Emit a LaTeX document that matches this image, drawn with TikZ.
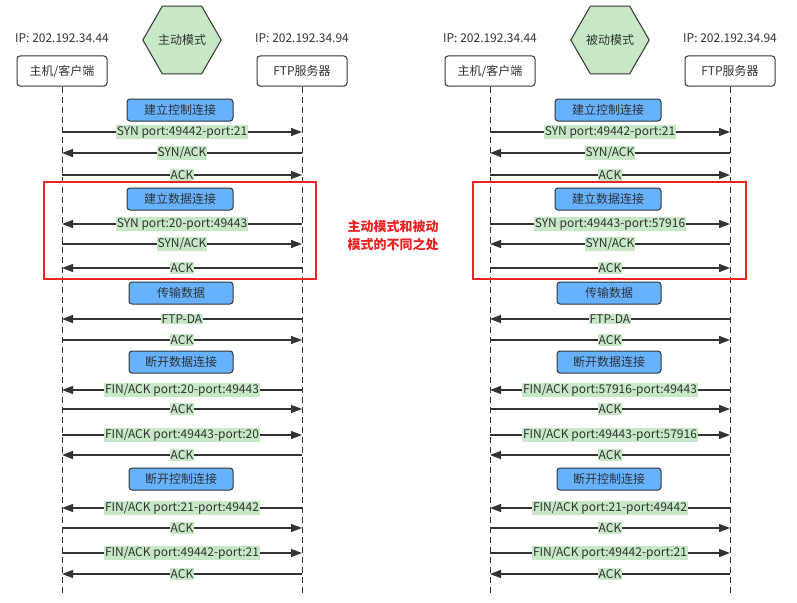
\documentclass[tikz,border=0pt]{standalone}
\usepackage{fontspec}
\setmainfont{Noto Sans CJK SC}
\usetikzlibrary{arrows.meta,shapes.geometric}
\definecolor{lg}{HTML}{C6E8C6}
\definecolor{bb}{HTML}{66B2FF}
\definecolor{dk}{HTML}{333333}
\definecolor{rd}{HTML}{EE2222}
\tikzset{
  x=1pt,y=-1pt,
  every node/.style={font=\fontsize{12}{14}\selectfont, text=dk},
  head/.style={draw=dk, line width=1pt, rounded corners=3pt, minimum width=90pt, minimum height=30pt, fill=white},
  hexa/.style={regular polygon, regular polygon sides=6, draw=dk, line width=1pt, fill=lg, minimum size=76pt, inner sep=0pt},
  phase/.style={draw=dk, line width=1pt, rounded corners=3pt, fill=bb, minimum width=106pt, minimum height=22pt},
  life/.style={draw=dk, line width=1pt, dash pattern=on 6pt off 4pt},
  msg/.style={draw=dk, line width=1.2pt, -{Triangle[length=11pt,width=8pt]}},
  lab/.style={fill=lg, inner sep=1pt},
  redbox/.style={draw=rd, line width=2.5pt}
}
% \mymsg{prefix}{id}{y}{from}{to}{label}
\newcommand\mymsg[6]{%
  \coordinate (#1#2a) at (#4,#3);
  \coordinate (#1#2b) at (#5,#3);
  \draw[msg] (#1#2a) -- (#1#2b) node[midway, lab] {#6};
}
\begin{document}
\begin{tikzpicture}
\useasboundingbox[fill=white] (0,0) rectangle (797,602);
% ---------- left: active mode
\node at (62,38) (lip1) {IP: 202.192.34.44};
\node at (302,38) (lip2) {IP: 202.192.34.94};
\node[hexa] at (182,40) (lhex) {主动模式};
\node[head] at (62,71) (lc) {主机/客户端};
\node[head] at (302,71) (ls) {FTP服务器};
\coordinate (lce) at (62,595);
\coordinate (lse) at (302,595);
\draw[life] (lc.south) -- (lce);
\draw[life] (ls.south) -- (lse);
\node[phase] at (180,110) (lp1) {建立控制连接};
\mymsg{l}{1}{132}{62}{302}{SYN port:49442-port:21}
\mymsg{l}{2}{153}{302}{62}{SYN/ACK}
\mymsg{l}{3}{175}{62}{302}{ACK}
\node[phase] at (180,199) (lp2) {建立数据连接};
\mymsg{l}{4}{224}{302}{62}{SYN port:20-port:49443}
\mymsg{l}{5}{244}{62}{302}{SYN/ACK}
\mymsg{l}{6}{268}{302}{62}{ACK}
\node[phase, minimum width=104pt] at (181,293) (lp3) {传输数据};
\mymsg{l}{7}{319}{302}{62}{FTP-DA}
\mymsg{l}{8}{340}{62}{302}{ACK}
\node[phase, minimum width=104pt] at (181,362) (lp4) {断开数据连接};
\mymsg{l}{9}{390}{302}{62}{FIN/ACK port:20-port:49443}
\mymsg{l}{10}{409}{62}{302}{ACK}
\mymsg{l}{11}{435}{62}{302}{FIN/ACK port:49443-port:20}
\mymsg{l}{12}{455}{302}{62}{ACK}
\node[phase, minimum width=104pt] at (181,479) (lp5) {断开控制连接};
\mymsg{l}{13}{508}{302}{62}{FIN/ACK port:21-port:49442}
\mymsg{l}{14}{528}{62}{302}{ACK}
\mymsg{l}{15}{553}{62}{302}{FIN/ACK port:49442-port:21}
\mymsg{l}{16}{574}{302}{62}{ACK}
\draw[redbox] (44,182) rectangle (316,279);
% ---------- right: passive mode
\node at (490,38) (rip1) {IP: 202.192.34.44};
\node at (730,38) (rip2) {IP: 202.192.34.94};
\node[hexa] at (610,40) (rhex) {被动模式};
\node[head] at (490,71) (rc) {主机/客户端};
\node[head] at (730,71) (rs) {FTP服务器};
\coordinate (rce) at (490,595);
\coordinate (rse) at (730,595);
\draw[life] (rc.south) -- (rce);
\draw[life] (rs.south) -- (rse);
\node[phase] at (608,110) (rp1) {建立控制连接};
\mymsg{r}{1}{132}{490}{730}{SYN port:49442-port:21}
\mymsg{r}{2}{153}{730}{490}{SYN/ACK}
\mymsg{r}{3}{175}{490}{730}{ACK}
\node[phase] at (608,199) (rp2) {建立数据连接};
\mymsg{r}{4}{224}{490}{730}{SYN port:49443-port:57916}
\mymsg{r}{5}{244}{730}{490}{SYN/ACK}
\mymsg{r}{6}{268}{490}{730}{ACK}
\node[phase, minimum width=104pt] at (609,293) (rp3) {传输数据};
\mymsg{r}{7}{319}{730}{490}{FTP-DA}
\mymsg{r}{8}{340}{490}{730}{ACK}
\node[phase, minimum width=104pt] at (609,362) (rp4) {断开数据连接};
\mymsg{r}{9}{390}{730}{490}{FIN/ACK port:57916-port:49443}
\mymsg{r}{10}{409}{490}{730}{ACK}
\mymsg{r}{11}{435}{490}{730}{FIN/ACK port:49443-port:57916}
\mymsg{r}{12}{455}{730}{490}{ACK}
\node[phase, minimum width=104pt] at (609,479) (rp5) {断开控制连接};
\mymsg{r}{13}{508}{730}{490}{FIN/ACK port:21-port:49442}
\mymsg{r}{14}{528}{490}{730}{ACK}
\mymsg{r}{15}{553}{490}{730}{FIN/ACK port:49442-port:21}
\mymsg{r}{16}{574}{730}{490}{ACK}
\draw[redbox] (473,182) rectangle (746,279);
% ---------- note
\node[text=rd, font=\fontsize{13}{18}\selectfont\bfseries, align=center] at (393,236) (note) {主动模式和被动\\模式的不同之处};
\end{tikzpicture}
\end{document}
